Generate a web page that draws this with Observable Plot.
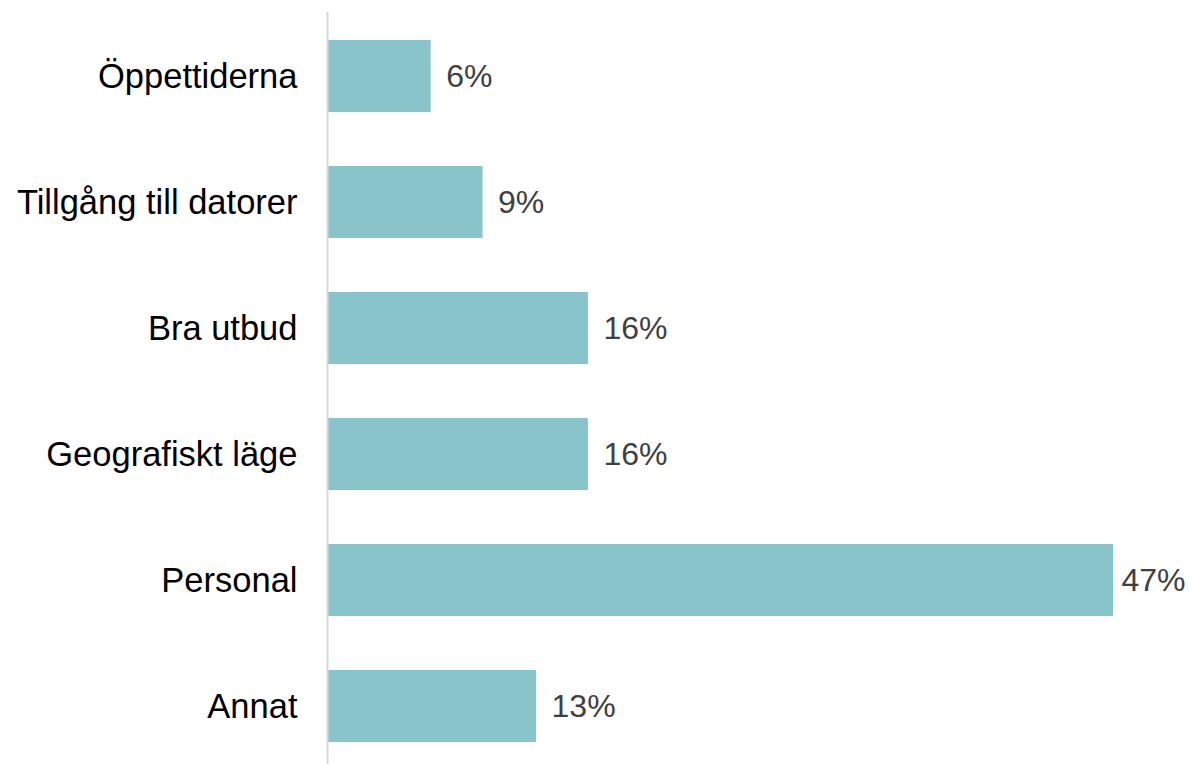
<!DOCTYPE html>
<html>
<head>
<meta charset="utf-8">
<script src="https://cdn.jsdelivr.net/npm/d3@7"></script>
<script src="https://cdn.jsdelivr.net/npm/@observablehq/plot@0.6"></script>
<style>
  html, body { margin: 0; padding: 0; background: #ffffff; overflow: hidden; }
</style>
</head>
<body>
<div id="chart"></div>
<script>
const categories = ["Öppettiderna", "Tillgång till datorer", "Bra utbud", "Geografiskt läge", "Personal", "Annat"];
const values = [6.2, 9.3, 15.6, 15.6, 47, 12.5];
const valueLabels = ["6%", "9%", "16%", "16%", "47%", "13%"];

const data = categories.map((c, i) => ({cat: c, value: values[i], label: valueLabels[i]}));
const maxValue = d3.max(values);

const chart = Plot.plot({
  width: 1189,
  height: 764,
  marginLeft: 327,
  marginRight: 76,
  marginTop: 21,
  marginBottom: 3,
  style: {fontFamily: "'Liberation Sans', Arial, sans-serif", background: "#ffffff"},
  x: {domain: [0, maxValue], axis: null},
  y: {domain: categories, paddingInner: 0.43, paddingOuter: 0.15, label: null, axis: null},
  marks: [
    Plot.barX(data, {x: "value", y: "cat", fill: "#89C4CB"}),
    Plot.ruleX([0], {stroke: "#d9d9d9", strokeWidth: 2, insetTop: -9, insetBottom: -3}),
    Plot.text(data.filter(d => d.value < maxValue), {x: "value", y: "cat", text: "label", textAnchor: "start", dx: 15, fontSize: 32, fill: "#404040"}),
    Plot.text(data.filter(d => d.value === maxValue), {x: "value", y: "cat", text: "label", textAnchor: "start", dx: 8, fontSize: 32, fill: "#404040"}),
    Plot.axisY({tickSize: 0, tickPadding: 30, fontSize: 34.5, fill: "#000000", label: null})
  ]
});
document.getElementById("chart").appendChild(chart);
</script>
</body>
</html>
